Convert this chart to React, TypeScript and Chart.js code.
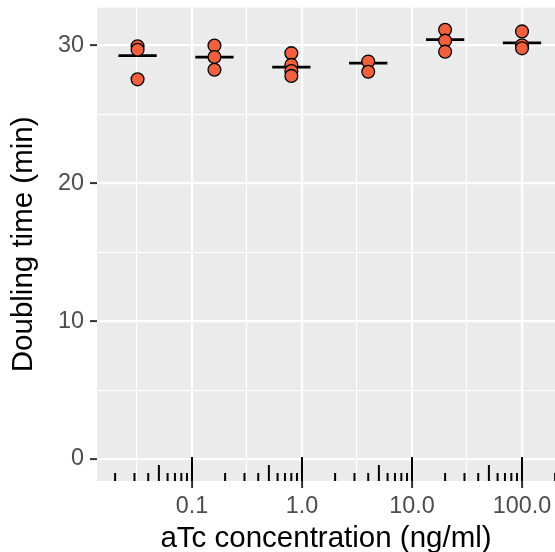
import React, { useEffect, useRef } from 'react';
import { Chart, registerables } from 'chart.js';

Chart.register(...registerables);

// ---- data ----
const concentrations = [0.032, 0.16, 0.8, 4, 20, 100]; // ng/ml
const repsAt0032 = [29.95, 29.7, 27.55];
const repsAt016 = [30.0, 29.17, 28.25];
const repsAt08 = [29.45, 28.6, 28.15, 27.8];
const repsAt4 = [28.85, 28.1];
const repsAt20 = [31.15, 30.36, 29.56];
const repsAt100 = [31.03, 30.02, 29.8];
const meanDoubling = [29.27, 29.17, 28.44, 28.73, 30.43, 30.19];

// ---- axes ----
const xMajorTicks = [0.1, 1, 10, 100];
const xMajorLabels = ['0.1', '1.0', '10.0', '100.0'];
const xMinorTicks = [0.0316, 0.316, 3.16, 31.6];
const yMajorTicks = [0, 10, 20, 30];
const yMinorTicks = [5, 15, 25];
const logTickDecades = [-2, -1, 0, 1, 2];
const logTickMultipliers = [1, 2, 3, 4, 5, 6, 7, 8, 9];

const X_MIN = 0.01369;
const X_MAX = 199.5;
const Y_MIN = -1.6;
const Y_MAX = 32.75;
const BAR_HALF_DECADES = 0.174;

const FONT = '"Liberation Sans", Arial, Helvetica, sans-serif';
const PANEL_BG = '#EBEBEB';
const POINT_FILL = '#F0603E';

const allReps = [repsAt0032, repsAt016, repsAt08, repsAt4, repsAt20, repsAt100];

const panelPlugin = {
  id: 'panelBg',
  beforeDraw(chart: any) {
    const { ctx, chartArea: a } = chart;
    ctx.save();
    ctx.fillStyle = PANEL_BG;
    ctx.fillRect(a.left, a.top, a.right - a.left, a.bottom - a.top);
    ctx.restore();
  },
};

const meanBarPlugin = {
  id: 'meanBars',
  beforeDatasetsDraw(chart: any) {
    const { ctx } = chart;
    const xs = chart.scales.x;
    const ys = chart.scales.y;
    ctx.save();
    ctx.strokeStyle = '#000000';
    ctx.lineWidth = 2.8;
    ctx.lineCap = 'butt';
    concentrations.forEach((c, i) => {
      const f = Math.pow(10, BAR_HALF_DECADES);
      const x1 = xs.getPixelForValue(c / f);
      const x2 = xs.getPixelForValue(c * f);
      const y = ys.getPixelForValue(meanDoubling[i]);
      ctx.beginPath();
      ctx.moveTo(x1, y);
      ctx.lineTo(x2, y);
      ctx.stroke();
    });
    ctx.restore();
  },
};

const logTickPlugin = {
  id: 'logTicks',
  afterDatasetsDraw(chart: any) {
    const { ctx, chartArea: a } = chart;
    const xs = chart.scales.x;
    ctx.save();
    ctx.strokeStyle = '#000000';
    ctx.lineWidth = 2;
    logTickDecades.forEach((d) => {
      logTickMultipliers.forEach((m) => {
        const v = m * Math.pow(10, d);
        const px = xs.getPixelForValue(v);
        if (px < a.left - 1 || px > a.right + 2) return;
        const len = m === 1 ? 24 : m === 5 ? 16 : 8;
        ctx.beginPath();
        ctx.moveTo(px, a.bottom);
        ctx.lineTo(px, a.bottom - len);
        ctx.stroke();
      });
    });
    ctx.restore();
  },
};

const isXMajor = (v: number) => xMajorTicks.indexOf(v) >= 0;
const isYMajor = (v: number) => yMajorTicks.indexOf(v) >= 0;

export default function App() {
  const canvasRef = useRef<HTMLCanvasElement | null>(null);

  useEffect(() => {
    document.body.style.margin = '0';
    const canvas = canvasRef.current;
    if (!canvas) return;

    const points: { x: number; y: number }[] = [];
    allReps.forEach((reps, i) => {
      reps.forEach((r) => points.push({ x: concentrations[i], y: r }));
    });

    const chart = new Chart(canvas, {
      type: 'scatter',
      data: {
        datasets: [
          {
            data: points,
            pointRadius: 6.4,
            pointHoverRadius: 6.4,
            pointBorderWidth: 1.3,
            pointBackgroundColor: POINT_FILL,
            pointBorderColor: '#000000',
            showLine: false,
          },
        ],
      },
      options: {
        animation: false,
        responsive: false,
        devicePixelRatio: 1,
        events: [],
        layout: { autoPadding: false, padding: { top: 7.7, right: 0, bottom: 0, left: 0 } },
        plugins: {
          legend: { display: false },
          tooltip: { enabled: false },
        },
        scales: {
          x: {
            type: 'logarithmic',
            min: X_MIN,
            max: X_MAX,
            bounds: 'data',
            afterBuildTicks: (s: any) => {
              s.ticks = [...xMinorTicks, ...xMajorTicks]
                .sort((p, q) => p - q)
                .map((v) => ({ value: v }));
            },
            afterFit: (s: any) => {
              s.height = 71;
              s.paddingLeft = 0;
              s.paddingRight = 0;
              s.paddingTop = 0;
              s.paddingBottom = 0;
            },
            border: { display: false },
            grid: {
              color: '#FFFFFF',
              lineWidth: (ctx: any) => (ctx.tick && isXMajor(ctx.tick.value) ? 2.2 : 1.1),
              drawTicks: true,
              tickLength: 7,
              tickWidth: 2,
              tickColor: (ctx: any) =>
                ctx.tick && isXMajor(ctx.tick.value) ? '#333333' : 'rgba(0,0,0,0)',
            },
            ticks: {
              autoSkip: false,
              maxRotation: 0,
              minRotation: 0,
              padding: 4.5,
              color: '#4D4D4D',
              font: { family: FONT, size: 23.4 },
              callback: (v: any) => {
                const i = xMajorTicks.indexOf(Number(v));
                return i >= 0 ? xMajorLabels[i] : '';
              },
            },
            title: {
              display: true,
              text: 'aTc concentration (ng/ml)',
              color: '#000000',
              font: { family: FONT, size: 29.5, lineHeight: 0.9 },
              padding: 0,
            },
          },
          y: {
            type: 'linear',
            min: Y_MIN,
            max: Y_MAX,
            afterBuildTicks: (s: any) => {
              s.ticks = [...yMajorTicks, ...yMinorTicks]
                .sort((p, q) => p - q)
                .map((v) => ({ value: v }));
            },
            afterFit: (s: any) => {
              s.width = 97;
              s.paddingLeft = 0;
              s.paddingRight = 0;
              s.paddingTop = 0;
              s.paddingBottom = 0;
            },
            border: { display: false },
            grid: {
              color: '#FFFFFF',
              lineWidth: (ctx: any) => (ctx.tick && isYMajor(ctx.tick.value) ? 2.2 : 1.1),
              drawTicks: true,
              tickLength: 7,
              tickWidth: 2,
              tickColor: (ctx: any) =>
                ctx.tick && isYMajor(ctx.tick.value) ? '#333333' : 'rgba(0,0,0,0)',
            },
            ticks: {
              autoSkip: false,
              padding: 6,
              color: '#4D4D4D',
              font: { family: FONT, size: 23.4 },
              callback: (v: any) => (isYMajor(Number(v)) ? String(v) : ''),
            },
            title: {
              display: true,
              text: 'Doubling time (min)',
              color: '#000000',
              font: { family: FONT, size: 29.5, lineHeight: 1 },
              padding: { top: 9.5, bottom: 0 },
            },
          },
        },
      } as any,
      plugins: [panelPlugin, meanBarPlugin, logTickPlugin],
    });

    return () => {
      chart.destroy();
    };
  }, []);

  return (
    <div style={{ position: 'fixed', left: 0, top: 0, width: 555, height: 552, background: '#FFFFFF' }}>
      <canvas ref={canvasRef} width={555} height={552} style={{ width: 555, height: 552, display: 'block' }} />
    </div>
  );
}
